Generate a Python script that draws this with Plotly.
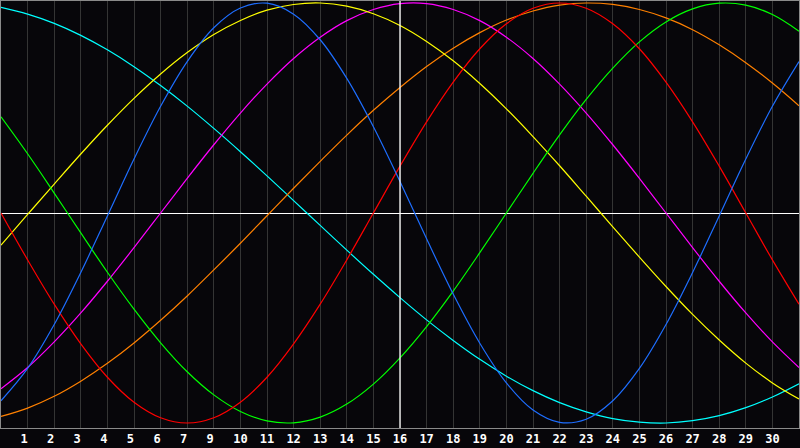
import plotly.graph_objects as go

# day index along the x axis (0 .. 30)
days = list(range(31))

# tick labels as shown under the grid lines (the "8" is absent in the source)
tick_pos = list(range(1, 30))
tick_text = ["1", "2", "3", "4", "5", "6", "7", "9", "10", "11", "12", "13", "14",
             "15", "16", "17", "18", "19", "20", "21", "22", "23", "24", "25",
             "26", "27", "28", "29", "30"]

# curve values (-100 .. 100)
blue = [-89.4, -74.0, -53.1, -28.3, -1.4, 25.7, 50.8, 72.1, 88.2, 97.6, 99.9,
        94.7, 82.5, 64.1, 41.1, 15.0, -12.3, -38.6, -62.0, -80.9, -93.8,
        -99.7, -98.2, -89.4, -74.0, -53.1, -28.3, -1.4, 25.7, 50.8, 72.1]
red = [0.0, -22.3, -43.4, -62.3, -78.2, -90.1, -97.5, -100.0, -97.5, -90.1,
       -78.2, -62.3, -43.4, -22.3, 0.0, 22.3, 43.4, 62.3, 78.2, 90.1, 97.5,
       100.0, 97.5, 90.1, 78.2, 62.3, 43.4, 22.3, 0.0, -22.3, -43.4]
green = [45.8, 28.2, 9.5, -9.5, -28.2, -45.8, -61.8, -75.6, -86.6, -94.5,
         -99.0, -99.9, -97.2, -91.0, -81.5, -69.0, -54.1, -37.2, -18.9, 0.0,
         18.9, 37.2, 54.1, 69.0, 81.5, 91.0, 97.2, 99.9, 99.0, 94.5, 86.6]
yellow = [-15.3, -0.7, 13.8, 28.1, 41.8, 54.6, 66.2, 76.4, 85.0, 91.7, 96.6,
          99.3, 100.0, 98.5, 94.9, 89.3, 81.7, 72.5, 61.7, 49.6, 36.4, 22.5,
          8.0, -6.6, -21.0, -35.0, -48.3, -60.5, -71.5, -80.9, -88.6]
magenta = [-83.7, -73.6, -61.4, -47.6, -32.5, -16.5, 0.0, 16.5, 32.5, 47.6,
           61.4, 73.6, 83.7, 91.6, 96.9, 99.7, 99.7, 96.9, 91.6, 83.7, 73.6,
           61.4, 47.6, 32.5, 16.5, 0.0, -16.5, -32.5, -47.6, -61.4, -73.6]
orange = [-96.9, -92.9, -87.3, -80.1, -71.6, -61.9, -51.1, -39.5, -27.1, -14.4,
          -1.3, 11.8, 24.6, 37.1, 48.9, 59.8, 69.8, 78.5, 85.9, 91.9, 96.2,
          99.0, 100.0, 99.3, 96.9, 92.9, 87.3, 80.1, 71.6, 61.9, 51.1]
cyan = [97.9, 94.7, 90.3, 84.6, 77.7, 69.7, 60.7, 50.9, 40.3, 29.2, 17.7, 5.9,
        -5.9, -17.7, -29.2, -40.3, -50.9, -60.7, -69.7, -77.7, -84.6, -90.3,
        -94.7, -97.9, -99.6, -100.0, -98.9, -96.5, -92.7, -87.6, -81.3]

BG = "#07060a"

series = [
    (cyan, "#00ffff"),
    (orange, "#ff8000"),
    (magenta, "#ff00ff"),
    (yellow, "#ffff00"),
    (green, "#00ff00"),
    (red, "#ff0000"),
    (blue, "#1e6eff"),
]

fig = go.Figure()
for vals, col in series:
    fig.add_trace(go.Scatter(
        x=days, y=vals, mode="lines",
        line=dict(color=col, width=1.2, shape="spline"),
        hoverinfo="skip", showlegend=False,
    ))

# centre cross
fig.add_shape(type="line", xref="x", yref="paper", x0=15, x1=15, y0=0, y1=1,
              line=dict(color="#ffffff", width=1.3), layer="above")

# single-digit labels sit a little left of their grid line in the original
labels = [t + "\u00a0" if len(t) == 1 else t for t in tick_text]

fig.update_layout(
    width=800, height=448,
    margin=dict(l=1, r=1, t=1, b=20),
    paper_bgcolor=BG, plot_bgcolor=BG,
    showlegend=False,
    xaxis=dict(
        range=[0, 30],
        tickmode="array", tickvals=tick_pos, ticktext=labels,
        showgrid=True, gridcolor="#343434", gridwidth=1,
        zeroline=False, ticks="",
        showline=True, mirror=True, linecolor="#8a8a8a", linewidth=1,
        tickfont=dict(family="DejaVu Sans Mono", size=12, color="#ffffff", weight="bold"),
    ),
    yaxis=dict(
        range=[-102.38, 100.95],
        showgrid=False, showticklabels=False, ticks="",
        zeroline=True, zerolinecolor="#ffffff", zerolinewidth=1.3,
        showline=True, mirror=True, linecolor="#8a8a8a", linewidth=1,
    ),
)

fig.write_html(
    "out.html",
    config={"displayModeBar": False},
    post_script="document.body.style.margin='0';document.body.style.background='%s';" % BG,
)
